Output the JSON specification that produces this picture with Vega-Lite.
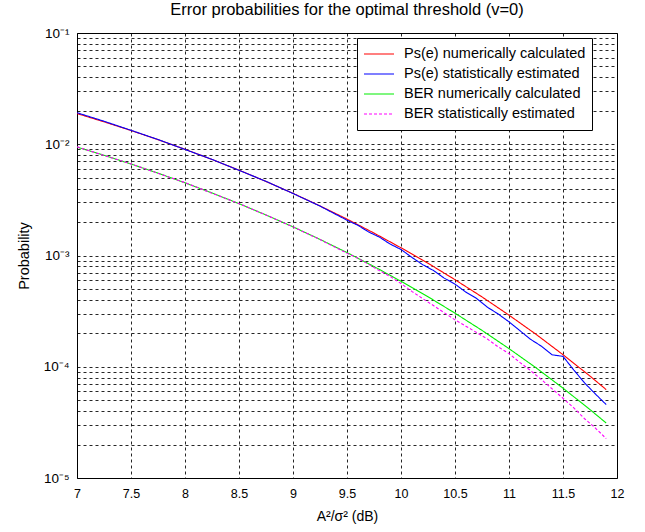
{
  "$schema": "https://vega.github.io/schema/vega-lite/v6.json",
  "autosize": "none",
  "width": 540,
  "height": 445,
  "padding": {"left": 77, "top": 33, "right": 28, "bottom": 54},
  "background": "white",
  "title": {"text": "Error probabilities for the optimal threshold (v=0)", "font": "Liberation Sans", "fontSize": 16.5, "fontWeight": "normal", "color": "black", "offset": 8},
  "config": {
    "view": {"stroke": "black", "strokeWidth": 1},
    "axis": {"labelFont": "Liberation Sans", "titleFont": "Liberation Sans", "labelColor": "black", "titleColor": "black", "labelFontSize": 12.5, "titleFontSize": 14, "titleFontWeight": "normal", "domain": false, "ticks": false, "grid": true, "gridColor": "black", "gridDash": [3, 3], "gridWidth": 1, "gridOpacity": 0.85},
    "legend": {"labelFont": "Liberation Sans", "labelFontSize": 14.5, "labelColor": "black", "labelLimit": 400}
  },
  "data": {"values": [
    {"x": 7, "p": 0.018878, "s": "Ps(e) numerically calculated"},
    {"x": 7.25, "p": 0.015912, "s": "Ps(e) numerically calculated"},
    {"x": 7.5, "p": 0.013289, "s": "Ps(e) numerically calculated"},
    {"x": 7.75, "p": 0.010995, "s": "Ps(e) numerically calculated"},
    {"x": 8, "p": 0.0090045, "s": "Ps(e) numerically calculated"},
    {"x": 8.25, "p": 0.0072975, "s": "Ps(e) numerically calculated"},
    {"x": 8.5, "p": 0.005847, "s": "Ps(e) numerically calculated"},
    {"x": 8.75, "p": 0.004629, "s": "Ps(e) numerically calculated"},
    {"x": 9, "p": 0.003618, "s": "Ps(e) numerically calculated"},
    {"x": 9.25, "p": 0.0027915, "s": "Ps(e) numerically calculated"},
    {"x": 9.5, "p": 0.002124, "s": "Ps(e) numerically calculated"},
    {"x": 9.75, "p": 0.0015915, "s": "Ps(e) numerically calculated"},
    {"x": 10, "p": 0.001173, "s": "Ps(e) numerically calculated"},
    {"x": 10.25, "p": 0.000852, "s": "Ps(e) numerically calculated"},
    {"x": 10.5, "p": 0.000606, "s": "Ps(e) numerically calculated"},
    {"x": 10.75, "p": 0.0004245, "s": "Ps(e) numerically calculated"},
    {"x": 11, "p": 0.000291, "s": "Ps(e) numerically calculated"},
    {"x": 11.25, "p": 0.0001958, "s": "Ps(e) numerically calculated"},
    {"x": 11.5, "p": 0.0001283, "s": "Ps(e) numerically calculated"},
    {"x": 11.75, "p": 0.0000824, "s": "Ps(e) numerically calculated"},
    {"x": 11.9, "p": 0.0000623, "s": "Ps(e) numerically calculated"},

    {"x": 7, "p": 0.0192, "s": "Ps(e) statistically estimated"},
    {"x": 7.25, "p": 0.0161, "s": "Ps(e) statistically estimated"},
    {"x": 7.5, "p": 0.01335, "s": "Ps(e) statistically estimated"},
    {"x": 7.75, "p": 0.01103, "s": "Ps(e) statistically estimated"},
    {"x": 8, "p": 0.00898, "s": "Ps(e) statistically estimated"},
    {"x": 8.25, "p": 0.00731, "s": "Ps(e) statistically estimated"},
    {"x": 8.5, "p": 0.00583, "s": "Ps(e) statistically estimated"},
    {"x": 8.75, "p": 0.00464, "s": "Ps(e) statistically estimated"},
    {"x": 9, "p": 0.00361, "s": "Ps(e) statistically estimated"},
    {"x": 9.25, "p": 0.00278, "s": "Ps(e) statistically estimated"},
    {"x": 9.5, "p": 0.002076, "s": "Ps(e) statistically estimated"},
    {"x": 9.6, "p": 0.001871, "s": "Ps(e) statistically estimated"},
    {"x": 9.7, "p": 0.001628, "s": "Ps(e) statistically estimated"},
    {"x": 9.8, "p": 0.001463, "s": "Ps(e) statistically estimated"},
    {"x": 9.9, "p": 0.001266, "s": "Ps(e) statistically estimated"},
    {"x": 10, "p": 0.001133, "s": "Ps(e) statistically estimated"},
    {"x": 10.1, "p": 0.000963, "s": "Ps(e) statistically estimated"},
    {"x": 10.2, "p": 0.000828, "s": "Ps(e) statistically estimated"},
    {"x": 10.3, "p": 0.000734, "s": "Ps(e) statistically estimated"},
    {"x": 10.4, "p": 0.000626, "s": "Ps(e) statistically estimated"},
    {"x": 10.5, "p": 0.000553, "s": "Ps(e) statistically estimated"},
    {"x": 10.6, "p": 0.000469, "s": "Ps(e) statistically estimated"},
    {"x": 10.7, "p": 0.000411, "s": "Ps(e) statistically estimated"},
    {"x": 10.8, "p": 0.000343, "s": "Ps(e) statistically estimated"},
    {"x": 10.9, "p": 0.000298, "s": "Ps(e) statistically estimated"},
    {"x": 11, "p": 0.0002534, "s": "Ps(e) statistically estimated"},
    {"x": 11.1, "p": 0.0002114, "s": "Ps(e) statistically estimated"},
    {"x": 11.2, "p": 0.0001763, "s": "Ps(e) statistically estimated"},
    {"x": 11.3, "p": 0.0001531, "s": "Ps(e) statistically estimated"},
    {"x": 11.4, "p": 0.000128, "s": "Ps(e) statistically estimated"},
    {"x": 11.5, "p": 0.000124, "s": "Ps(e) statistically estimated"},
    {"x": 11.6, "p": 0.0000935, "s": "Ps(e) statistically estimated"},
    {"x": 11.7, "p": 0.0000715, "s": "Ps(e) statistically estimated"},
    {"x": 11.8, "p": 0.0000569, "s": "Ps(e) statistically estimated"},
    {"x": 11.9, "p": 0.0000457, "s": "Ps(e) statistically estimated"},

    {"x": 7, "p": 0.009439, "s": "BER numerically calculated"},
    {"x": 7.25, "p": 0.007956, "s": "BER numerically calculated"},
    {"x": 7.5, "p": 0.0066445, "s": "BER numerically calculated"},
    {"x": 7.75, "p": 0.0054975, "s": "BER numerically calculated"},
    {"x": 8, "p": 0.0045023, "s": "BER numerically calculated"},
    {"x": 8.25, "p": 0.0036488, "s": "BER numerically calculated"},
    {"x": 8.5, "p": 0.0029235, "s": "BER numerically calculated"},
    {"x": 8.75, "p": 0.0023145, "s": "BER numerically calculated"},
    {"x": 9, "p": 0.001809, "s": "BER numerically calculated"},
    {"x": 9.25, "p": 0.0013958, "s": "BER numerically calculated"},
    {"x": 9.5, "p": 0.001062, "s": "BER numerically calculated"},
    {"x": 9.75, "p": 0.0007958, "s": "BER numerically calculated"},
    {"x": 10, "p": 0.0005865, "s": "BER numerically calculated"},
    {"x": 10.25, "p": 0.000426, "s": "BER numerically calculated"},
    {"x": 10.5, "p": 0.000303, "s": "BER numerically calculated"},
    {"x": 10.75, "p": 0.0002123, "s": "BER numerically calculated"},
    {"x": 11, "p": 0.0001455, "s": "BER numerically calculated"},
    {"x": 11.25, "p": 0.0000979, "s": "BER numerically calculated"},
    {"x": 11.5, "p": 0.0000642, "s": "BER numerically calculated"},
    {"x": 11.75, "p": 0.0000412, "s": "BER numerically calculated"},
    {"x": 11.9, "p": 0.0000312, "s": "BER numerically calculated"},

    {"x": 7, "p": 0.00948, "s": "BER statistically estimated"},
    {"x": 7.25, "p": 0.00793, "s": "BER statistically estimated"},
    {"x": 7.5, "p": 0.00666, "s": "BER statistically estimated"},
    {"x": 7.75, "p": 0.00548, "s": "BER statistically estimated"},
    {"x": 8, "p": 0.00452, "s": "BER statistically estimated"},
    {"x": 8.25, "p": 0.00363, "s": "BER statistically estimated"},
    {"x": 8.5, "p": 0.00293, "s": "BER statistically estimated"},
    {"x": 8.75, "p": 0.00231, "s": "BER statistically estimated"},
    {"x": 9, "p": 0.00181, "s": "BER statistically estimated"},
    {"x": 9.25, "p": 0.00139, "s": "BER statistically estimated"},
    {"x": 9.5, "p": 0.00105, "s": "BER statistically estimated"},
    {"x": 9.6, "p": 0.000946, "s": "BER statistically estimated"},
    {"x": 9.7, "p": 0.000833, "s": "BER statistically estimated"},
    {"x": 9.8, "p": 0.000731, "s": "BER statistically estimated"},
    {"x": 9.9, "p": 0.000648, "s": "BER statistically estimated"},
    {"x": 10, "p": 0.00056, "s": "BER statistically estimated"},
    {"x": 10.1, "p": 0.000476, "s": "BER statistically estimated"},
    {"x": 10.2, "p": 0.00041, "s": "BER statistically estimated"},
    {"x": 10.3, "p": 0.000355, "s": "BER statistically estimated"},
    {"x": 10.4, "p": 0.000306, "s": "BER statistically estimated"},
    {"x": 10.5, "p": 0.000264, "s": "BER statistically estimated"},
    {"x": 10.6, "p": 0.0002316, "s": "BER statistically estimated"},
    {"x": 10.7, "p": 0.0002031, "s": "BER statistically estimated"},
    {"x": 10.8, "p": 0.0001774, "s": "BER statistically estimated"},
    {"x": 10.9, "p": 0.0001509, "s": "BER statistically estimated"},
    {"x": 11, "p": 0.0001312, "s": "BER statistically estimated"},
    {"x": 11.1, "p": 0.0001094, "s": "BER statistically estimated"},
    {"x": 11.2, "p": 0.0000923, "s": "BER statistically estimated"},
    {"x": 11.3, "p": 0.0000766, "s": "BER statistically estimated"},
    {"x": 11.4, "p": 0.0000632, "s": "BER statistically estimated"},
    {"x": 11.5, "p": 0.0000521, "s": "BER statistically estimated"},
    {"x": 11.6, "p": 0.0000427, "s": "BER statistically estimated"},
    {"x": 11.7, "p": 0.0000341, "s": "BER statistically estimated"},
    {"x": 11.8, "p": 0.0000281, "s": "BER statistically estimated"},
    {"x": 11.9, "p": 0.0000226, "s": "BER statistically estimated"}
  ]},
  "mark": {"type": "line", "strokeWidth": 1.1, "clip": true},
  "encoding": {
    "x": {"field": "x", "type": "quantitative", "scale": {"domain": [7, 12], "nice": false, "zero": false},
      "axis": {"title": "A²/σ² (dB)", "values": [7, 7.5, 8, 8.5, 9, 9.5, 10, 10.5, 11, 11.5, 12], "format": "~g", "labelPadding": 9, "titlePadding": 10, "labelFlush": false}},
    "y": {"field": "p", "type": "quantitative", "scale": {"type": "log", "domain": [0.00001, 0.1], "nice": false},
      "axis": {"title": "Probability", "titleFontSize": 14.5, "titlePadding": 12, "labelPadding": 8,
        "values": [0.00001, 0.00002, 0.00003, 0.00004, 0.00005, 0.00006, 0.00007, 0.00008, 0.00009, 0.0001, 0.0002, 0.0003, 0.0004, 0.0005, 0.0006, 0.0007, 0.0008, 0.0009, 0.001, 0.002, 0.003, 0.004, 0.005, 0.006, 0.007, 0.008, 0.009, 0.01, 0.02, 0.03, 0.04, 0.05, 0.06, 0.07, 0.08, 0.09, 0.1],
        "labelExpr": "datum.value == 0.1 ? '10⁻¹' : datum.value == 0.01 ? '10⁻²' : datum.value == 0.001 ? '10⁻³' : datum.value == 0.0001 ? '10⁻⁴' : datum.value == 0.00001 ? '10⁻⁵' : ''",
        "labelFontSize": 13.5}},
    "color": {"field": "s", "type": "nominal", "title": null,
      "scale": {"domain": ["Ps(e) numerically calculated", "Ps(e) statistically estimated", "BER numerically calculated", "BER statistically estimated"], "range": ["#ff0000", "#0000ff", "#00ee00", "#ff00ff"]},
      "legend": {"orient": "none", "legendX": 280, "legendY": 5, "symbolType": "stroke", "symbolSize": 900, "symbolStrokeWidth": 1.1, "padding": 6, "rowPadding": 0, "clipHeight": 20, "labelOffset": 9, "labelLimit": 400, "strokeColor": "black", "fillColor": "white"}},
    "strokeDash": {"field": "s", "type": "nominal", "title": null,
      "scale": {"domain": ["Ps(e) numerically calculated", "Ps(e) statistically estimated", "BER numerically calculated", "BER statistically estimated"], "range": [[1, 0], [1, 0], [1, 0], [3, 2]]}}
  }
}
